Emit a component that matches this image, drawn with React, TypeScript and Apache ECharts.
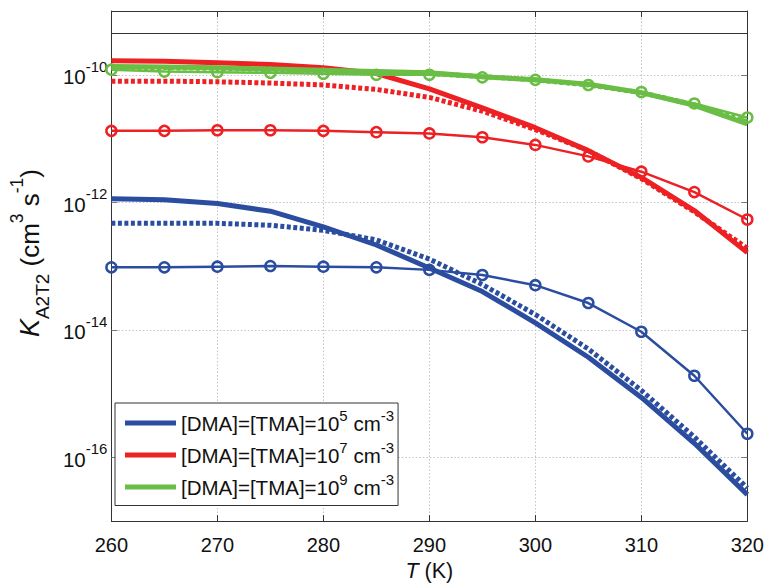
import React, { useEffect, useRef } from "react";
import * as echarts from "echarts";

// Temperature (K)
const temperatures = [260, 265, 270, 275, 280, 285, 290, 295, 300, 305, 310, 315, 320];

// log10 of K_A2T2 (cm^3 s^-1)
// [DMA]=[TMA]=1e5 cm^-3
const blueSolid = [-11.945, -11.96, -12.02, -12.14, -12.385, -12.67, -13.03, -13.4, -13.89, -14.43, -15.06, -15.78, -16.585];
const blueDotted = [-12.33, -12.33, -12.33, -12.36, -12.44, -12.59, -12.89, -13.29, -13.76, -14.3, -14.95, -15.68, -16.48];
const blueCircles = [-13.02, -13.02, -13.01, -13.0, -13.01, -13.02, -13.06, -13.14, -13.3, -13.58, -14.03, -14.72, -15.63];
// [DMA]=[TMA]=1e7 cm^-3
const redSolid = [-9.78, -9.79, -9.81, -9.84, -9.89, -9.98, -10.22, -10.52, -10.83, -11.19, -11.61, -12.13, -12.79];
const redDotted = [-10.1, -10.1, -10.11, -10.13, -10.16, -10.23, -10.355, -10.57, -10.86, -11.19, -11.63, -12.15, -12.72];
const redCircles = [-10.88, -10.88, -10.87, -10.87, -10.88, -10.9, -10.92, -10.98, -11.1, -11.28, -11.52, -11.84, -12.27];
// [DMA]=[TMA]=1e9 cm^-3
const greenSolid = [-9.87, -9.88, -9.89, -9.91, -9.93, -9.95, -9.97, -10.03, -10.08, -10.15, -10.28, -10.48, -10.77];
const greenDotted = [-9.88, -9.89, -9.9, -9.92, -9.94, -9.96, -9.98, -10.03, -10.08, -10.16, -10.28, -10.47, -10.74];
const greenCircles = [-9.92, -9.95, -9.96, -9.97, -9.985, -10.0, -10.0, -10.04, -10.08, -10.16, -10.27, -10.45, -10.67];

const yTickExponents = [-16, -14, -12, -10];
const upperFrameLineExponent = -9.347;

const legendNames = ["c5", "c7", "c9"];
const legendExponents = ["5", "7", "9"];

const BLUE = "#2B4DA0";
const RED = "#ED2024";
const GREEN = "#6ABD45";
const FONT = "Liberation Sans, Arial, Helvetica, sans-serif";
const AXIS = "#333333";
const TXT = "#111111";

const pairs = (ys: number[]) => temperatures.map((t, i) => [t, ys[i]]);

export default function App() {
  const ref = useRef<HTMLDivElement>(null);
  useEffect(() => {
    if (!ref.current) return;
    const chart = echarts.init(ref.current, undefined, { renderer: "svg" });

    const thick = (name: string, color: string, ys: number[], dotted: boolean, z: number) => ({
      name,
      type: "line",
      data: pairs(ys),
      symbol: "none",
      z,
      lineStyle: {
        color,
        width: 5,
        type: dotted ? [4, 2.5] : "solid",
        cap: "butt",
      },
      itemStyle: { color },
      silent: true,
    });
    const circles = (name: string, color: string, ys: number[]) => ({
      name,
      type: "line",
      data: pairs(ys),
      symbol: "circle",
      symbolSize: 10,
      showSymbol: true,
      showAllSymbol: true,
      z: 5,
      lineStyle: { color, width: 2.5 },
      itemStyle: { color: "rgba(255,255,255,0)", borderColor: color, borderWidth: 2.5 },
      silent: true,
    });

    const legendRich = {
      n: { fontFamily: FONT, fontSize: 20.5, lineHeight: 30, color: TXT },
      s: { fontFamily: FONT, fontSize: 15, lineHeight: 9, verticalAlign: "top", color: TXT },
    };

    const option: any = {
      animation: false,
      backgroundColor: "#ffffff",
      textStyle: { fontFamily: FONT },
      grid: { left: 107, right: 19, top: 11, bottom: 62, containLabel: false },
      legend: {
        data: legendNames,
        orient: "vertical",
        left: 115,
        top: 403,
        padding: [5, 4, 8, 10],
        itemGap: 6.5,
        itemWidth: 51,
        itemHeight: 5,
        icon: "rect",
        backgroundColor: "#ffffff",
        borderColor: AXIS,
        borderWidth: 1,
        borderRadius: 0,
        selectedMode: false,
        formatter: (name: string) => {
          const e = legendExponents[legendNames.indexOf(name)];
          return `{n|[DMA]=[TMA]=10}{s|${e}}{n| cm}{s|-3}`;
        },
        textStyle: { fontFamily: FONT, fontSize: 20.5, color: TXT, rich: legendRich },
      },
      xAxis: [
        {
          type: "value",
          min: 260,
          max: 320,
          interval: 10,
          position: "bottom",
          axisLine: { show: true, lineStyle: { color: AXIS, width: 1 } },
          axisTick: { show: true, inside: true, length: 6, lineStyle: { color: AXIS } },
          axisLabel: { show: true, margin: 14, fontSize: 20, color: TXT, fontFamily: FONT },
          splitLine: { show: true, lineStyle: { color: "#c4c4c4", type: [1.5, 2], width: 1 } },
          name: "{i|T} (K)",
          nameLocation: "middle",
          nameGap: 37,
          nameTextStyle: {
            fontSize: 21.5,
            color: TXT,
            fontFamily: FONT,
            rich: { i: { fontStyle: "italic", fontSize: 21.5, fontFamily: FONT, color: TXT } },
          },
        },
        {
          type: "value",
          min: 260,
          max: 320,
          interval: 10,
          position: "top",
          axisLine: { show: true, lineStyle: { color: AXIS, width: 1 } },
          axisTick: { show: true, inside: true, length: 6, lineStyle: { color: AXIS } },
          axisLabel: { show: false },
          splitLine: { show: false },
        },
      ],
      yAxis: [
        {
          type: "value",
          min: -17,
          max: -9,
          position: "left",
          axisLine: { show: true, lineStyle: { color: AXIS, width: 1 } },
          axisTick: { show: true, inside: true, length: 6, customValues: yTickExponents, lineStyle: { color: "#777" } },
          axisLabel: {
            show: true,
            customValues: yTickExponents,
            margin: 4,
            formatter: (v: number) => `{b|10}{s|${Math.round(v)}}`,
            rich: {
              b: { fontFamily: FONT, fontSize: 20.5, lineHeight: 32, padding: [4, 0, 0, 0], color: TXT },
              s: { fontFamily: FONT, fontSize: 15, lineHeight: 6, verticalAlign: "top", color: TXT },
            },
          },
          splitLine: { show: true, lineStyle: { color: "#c4c4c4", type: [1.5, 2], width: 1 } },
          name: "{k|K}{sub|A2T2}{n| (cm}{sup|3}{n| s}{sup|-1}{n|)}",
          nameLocation: "middle",
          nameRotate: 90,
          nameGap: 52,
          nameTextStyle: {
            color: TXT,
            fontFamily: FONT,
            padding: [0, 0, 0, 26],
            rich: {
              k: { fontFamily: FONT, fontSize: 27, fontStyle: "italic", lineHeight: 44, color: TXT },
              n: { fontFamily: FONT, fontSize: 26, lineHeight: 44, color: TXT },
              sub: { fontFamily: FONT, fontSize: 19, lineHeight: 28, verticalAlign: "bottom", color: TXT },
              sup: { fontFamily: FONT, fontSize: 17.5, lineHeight: 24, verticalAlign: "top", color: TXT },
            },
          },
        },
        {
          type: "value",
          min: -17,
          max: -9,
          position: "right",
          axisLine: { show: true, lineStyle: { color: AXIS, width: 1 } },
          axisTick: { show: true, inside: true, length: 6, customValues: yTickExponents, lineStyle: { color: "#777" } },
          axisLabel: { show: false },
          splitLine: { show: false },
        },
      ],
      series: [
        {
          ...thick("redDotted", RED, redDotted, true, 2),
          markLine: {
            silent: true,
            symbol: ["none", "none"],
            label: { show: false },
            lineStyle: { color: AXIS, width: 1.2, type: "solid" },
            data: [{ yAxis: upperFrameLineExponent }],
          },
        },
        thick("c7", RED, redSolid, false, 2),
        thick("blueDotted", BLUE, blueDotted, true, 2),
        thick("c5", BLUE, blueSolid, false, 2),
        thick("greenDotted", GREEN, greenDotted, true, 3),
        thick("c9", GREEN, greenSolid, false, 3),
        circles("redCircles", RED, redCircles),
        circles("blueCircles", BLUE, blueCircles),
        circles("greenCircles", GREEN, greenCircles),
      ],
    };
    chart.setOption(option);
    return () => chart.dispose();
  }, []);
  return <div ref={ref} style={{ position: "fixed", left: 0, top: 0, width: 767, height: 587 }} />;
}
